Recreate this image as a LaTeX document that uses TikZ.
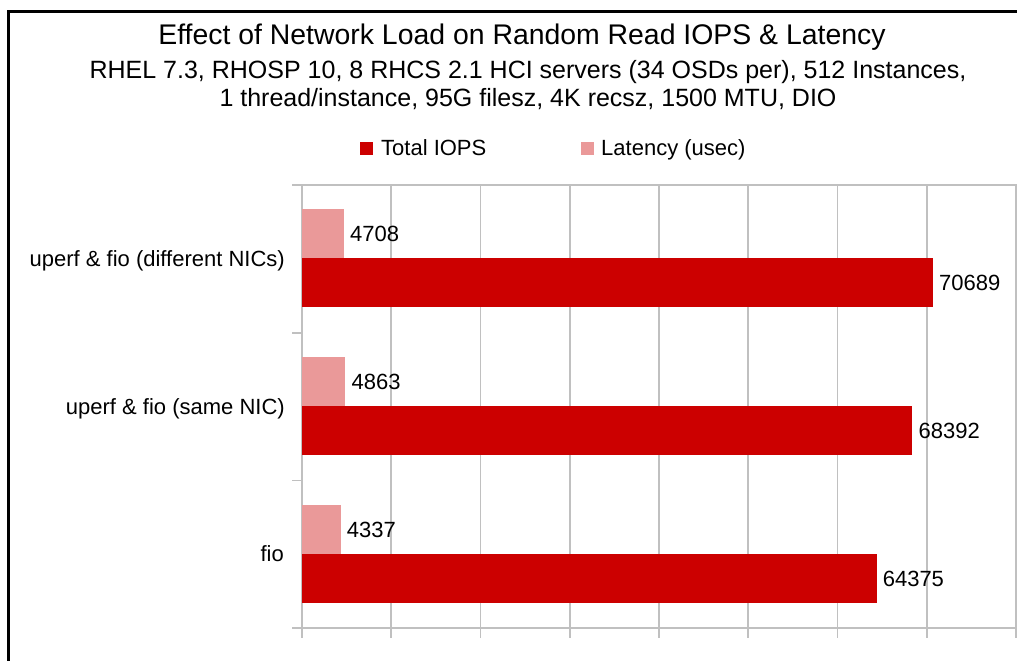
\documentclass[tikz,border=0pt]{standalone}
\usepackage{fontspec}
\setmainfont{Liberation Sans}
\definecolor{iopsred}{RGB}{204,0,0}
\definecolor{latpink}{RGB}{234,153,153}
\definecolor{gridgray}{RGB}{192,192,192}

\begin{document}
\begin{tikzpicture}[x=1pt,y=-1pt,
  lbl/.style={inner sep=0pt, font=\fontsize{22}{26}\selectfont},
  grid line/.style={gridgray, line width=1.6pt}]

\useasboundingbox (0,0) rectangle (1023,661);

% frame, only left and top
\draw[line width=2.6pt] (8.5,661) -- (8.5,11.5) -- (1017,11.5);

% titles
\node[anchor=base, inner sep=0pt, font=\fontsize{28.4}{34}\selectfont] (title) at (522,45) {Effect of Network Load on Random Read IOPS \& Latency};
\node[anchor=base, inner sep=0pt, font=\fontsize{25}{30}\selectfont] (sub1) at (528,78) {RHEL 7.3, RHOSP 10, 8 RHCS 2.1 HCI servers (34 OSDs per), 512 Instances,};
\node[anchor=base, inner sep=0pt, font=\fontsize{25}{30}\selectfont] (sub2) at (528,106.5) {1 thread/instance, 95G filesz, 4K recsz, 1500 MTU, DIO};

% legend
\fill[iopsred] (360,142) rectangle (373,155);
\node[lbl, anchor=base west] (legiops) at (381,155) {Total IOPS};
\fill[latpink] (581,142) rectangle (594,155);
\node[lbl, anchor=base west] (leglat) at (601,155) {Latency (usec)};

% grid
\foreach \i in {0,...,8}
  \draw[grid line] ({302+89.25*\i},185) -- ({302+89.25*\i},638);
\draw[grid line] (292,185) -- (1017,185);
\draw[grid line] (292,628) -- (1017,628);
\draw[grid line] (292,332.7) -- (302,332.7);
\draw[grid line] (292,480.3) -- (302,480.3);

% bars
\fill[latpink] (302,209) rectangle (344.0,258);
\fill[iopsred] (302,258) rectangle (932.9,307);
\fill[latpink] (302,357) rectangle (345.4,406);
\fill[iopsred] (302,406) rectangle (912.4,455);
\fill[latpink] (302,505) rectangle (340.7,554);
\fill[iopsred] (302,554) rectangle (876.6,603);

% values
\node[lbl, anchor=base west] (v1lat) at (350,241.5) {4708};
\node[lbl, anchor=base west] (v1iops) at (939,290.5) {70689};
\node[lbl, anchor=base west] (v2lat) at (351.4,389.5) {4863};
\node[lbl, anchor=base west] (v2iops) at (918.4,438.5) {68392};
\node[lbl, anchor=base west] (v3lat) at (346.7,537.5) {4337};
\node[lbl, anchor=base west] (v3iops) at (882.6,586.5) {64375};

% categories
\node[lbl, anchor=base east] (cat1) at (285,266.7) {uperf \& fio (different NICs)};
\node[lbl, anchor=base east] (cat2) at (285,414) {uperf \& fio (same NIC)};
\node[lbl, anchor=base east] (cat3) at (284,561.5) {fio};

\end{tikzpicture}
\end{document}
